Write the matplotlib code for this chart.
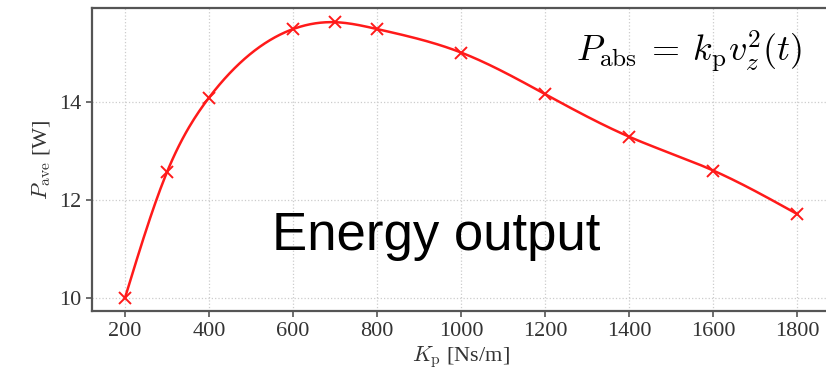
import numpy as np
import matplotlib
matplotlib.use("Agg")
import matplotlib.pyplot as plt

kp = [200, 300, 400, 600, 700, 800, 1000, 1200, 1400, 1600, 1800]
p_ave = [10.0, 12.57, 14.09, 15.49, 15.63, 15.49, 15.01, 14.16, 13.29, 12.60, 11.71]
xticks = [200, 400, 600, 800, 1000, 1200, 1400, 1600, 1800]
yticks = [10, 12, 14]


def natural_spline(x, y, xs):
    x = np.asarray(x, float); y = np.asarray(y, float)
    n = len(x)
    h = np.diff(x)
    A = np.zeros((n, n)); b = np.zeros(n)
    A[0, 0] = 1; A[-1, -1] = 1
    for i in range(1, n - 1):
        A[i, i - 1] = h[i - 1]
        A[i, i] = 2 * (h[i - 1] + h[i])
        A[i, i + 1] = h[i]
        b[i] = 3 * ((y[i + 1] - y[i]) / h[i] - (y[i] - y[i - 1]) / h[i - 1])
    c = np.linalg.solve(A, b)
    bb = (y[1:] - y[:-1]) / h - h * (2 * c[:-1] + c[1:]) / 3
    d = (c[1:] - c[:-1]) / (3 * h)
    idx = np.clip(np.searchsorted(x, xs) - 1, 0, n - 2)
    dx = xs - x[idx]
    return y[idx] + bb[idx] * dx + c[idx] * dx ** 2 + d[idx] * dx ** 3


plt.rcParams['mathtext.fontset'] = 'cm'
plt.rcParams['font.family'] = ['Liberation Serif', 'DejaVu Serif']

fig = plt.figure(figsize=(8.26, 3.81), dpi=100)
ax = fig.add_axes([92 / 826, 1 - 311 / 381, (830 - 92) / 826, (311 - 8) / 381])

xs = np.linspace(kp[0], kp[-1], 400)
ax.plot(xs, natural_spline(kp, p_ave, xs), color='#ff1a1a', lw=1.8)
ax.plot(kp, p_ave, ls='none', marker='x', color='#ff1a1a', ms=8, mew=1.4)

ax.set_xlim(121.4, 1878)
ax.set_ylim(9.73, 15.92)
ax.set_xticks(xticks)
ax.set_yticks(yticks)
ax.grid(True, ls=':', color='#cccccc', lw=0.9)
for s in ax.spines.values():
    s.set_color('#555555')
    s.set_linewidth(1.6)
ax.tick_params(axis='both', colors='#555555', labelcolor='#333333', labelsize=16,
               length=4, width=1.2, pad=4)

ax.set_xlabel(r'$K_\mathrm{p}$ [Ns/m]', fontsize=16, color='#333333', labelpad=2)
ax.set_ylabel(r'$P_\mathrm{ave}$ [W]', fontsize=16, color='#333333', labelpad=4)

ax.text(0.962, 0.855, r'$P_\mathrm{abs}\:=\:k_\mathrm{p} v_z^2(t)$', transform=ax.transAxes,
        fontsize=26, ha='right', va='center', color='black')
fig.text(436 / 826, 1 - 236 / 381, 'Energy output', family='Liberation Sans',
         fontsize=38, ha='center', va='center', color='black')

fig.savefig('out.png', dpi=100)
